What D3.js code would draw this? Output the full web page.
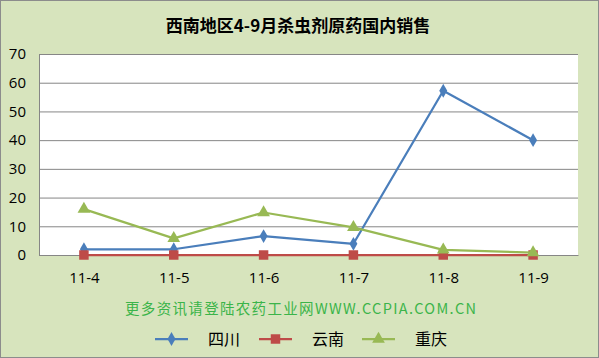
<!DOCTYPE html>
<html><head><meta charset="utf-8">
<script src="https://cdn.jsdelivr.net/npm/d3@7"></script>
<style>html,body{margin:0;padding:0;background:#fff;}svg{display:block;}</style>
</head><body>
<svg id="c" width="599" height="358"></svg>
<script>
const categories = ["11-4","11-5","11-6","11-7","11-8","11-9"];
const sichuan = [2, 2, 6.6, 3.9, 57.2, 40];
const yunnan = [0, 0, 0, 0, 0, 0];
const chongqing = [16, 5.8, 14.8, 9.6, 1.8, 0.8];
const seriesNames = ["四川","云南","重庆"];
const yTicks = [0,10,20,30,40,50,60,70];
const titleText = "西南地区4-9月杀虫剂原药国内销售";
const watermark = "更多资讯请登陆农药工业网WWW.CCPIA.COM.CN";

const series = [
  {name: seriesNames[0], values: sichuan, color: "#4A7EBB", shape: "diamond"},
  {name: seriesNames[1], values: yunnan, color: "#BE4B48", shape: "square"},
  {name: seriesNames[2], values: chongqing, color: "#98B954", shape: "triangle"}
];

const svg = d3.select("#c");
const W = 599, H = 358;
const m = {left: 39, right: 21, top: 54, bottom: 103};
svg.append("rect").attr("x",0.5).attr("y",0.5).attr("width",W-1).attr("height",H-1)
  .attr("fill","#D7E4BD").attr("stroke","#8c8c8c");

const x = d3.scalePoint().domain(categories).range([m.left, W - m.right]).padding(0.5);
const y = d3.scaleLinear().domain([0,70]).range([H - m.bottom, m.top]);

svg.append("rect").attr("x", m.left).attr("y", m.top)
  .attr("width", W - m.right - m.left).attr("height", H - m.bottom - m.top).attr("fill","#fff");

const axisFont = "Open Sans, Liberation Sans, sans-serif";
const yAxis = d3.axisLeft(y).tickValues(yTicks).tickSize(-(W - m.right - m.left)).tickFormat(d3.format("d"));
const gy = svg.append("g").attr("transform", `translate(${m.left},0)`).call(yAxis);
gy.select(".domain").attr("stroke","#868686");
gy.selectAll(".tick line").attr("stroke","#868686").attr("stroke-width",1);
gy.selectAll(".tick text").attr("x",-13).attr("fill","#000").attr("font-size",15)
  .attr("font-family",axisFont);

const xAxis = d3.axisBottom(x).tickSize(0);
const gx = svg.append("g").attr("transform", `translate(0,${H - m.bottom})`).call(xAxis);
gx.select(".domain").attr("stroke","#868686");
gx.selectAll(".tick text").attr("dy", 0).attr("y", 28).attr("fill","#000").attr("font-size",15)
  .attr("font-family",axisFont);

const line = d3.line().x((d,i)=>x(categories[i])).y(d=>y(d));
const symType = {diamond: d3.symbolDiamond, square: d3.symbolSquare, triangle: d3.symbolTriangle};
const symSize = {diamond: 55, square: 90, triangle: 70};

function marker(g, s, cx, cy){
  g.append("path").attr("d", d3.symbol().type(symType[s.shape]).size(symSize[s.shape])())
   .attr("transform", `translate(${cx},${cy})`).attr("fill", s.color);
}

series.forEach(s => {
  svg.append("path").datum(s.values).attr("d", line).attr("fill","none")
    .attr("stroke", s.color).attr("stroke-width", 2.25).attr("stroke-linejoin","round");
  const g = svg.append("g");
  s.values.forEach((v,i)=> marker(g, s, x(categories[i]), y(v)));
});

svg.append("text").attr("x", 298).attr("y", 32).attr("text-anchor","middle")
  .attr("font-size",17).attr("font-weight","bold")
  .attr("font-family","Noto Sans CJK SC, sans-serif").text(titleText);

svg.append("text").attr("x", 125).attr("y", 314)
  .attr("font-size",14.5).attr("fill","#3BB44A").attr("textLength", 351)
  .attr("font-family","Noto Sans CJK SC, sans-serif").text(watermark);

const legX = [155, 259, 362];
series.forEach((s,i)=>{
  const g = svg.append("g");
  const ly = 339;
  g.append("line").attr("x1", legX[i]).attr("x2", legX[i]+33).attr("y1", ly).attr("y2", ly)
    .attr("stroke", s.color).attr("stroke-width", 2.25);
  marker(g, s, legX[i]+16.5, ly);
  g.append("text").attr("x", legX[i]+53).attr("y", ly+6).attr("font-size",16)
    .attr("font-family","Noto Sans CJK SC, sans-serif").text(s.name);
});
</script>
</body></html>
